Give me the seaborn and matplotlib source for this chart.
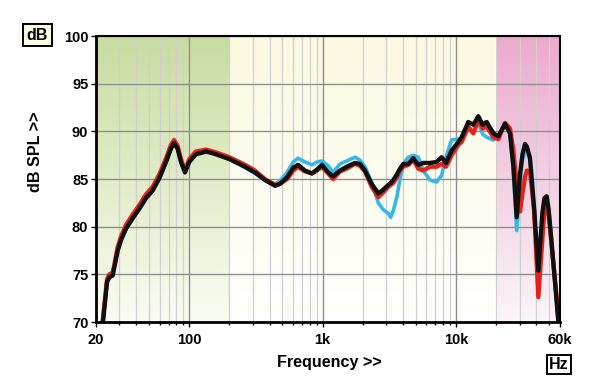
import numpy as np
import pandas as pd
import matplotlib
matplotlib.use('Agg')
import matplotlib.pyplot as plt
import matplotlib.ticker as mticker
import seaborn as sns

# frequency grid (Hz) and three measured responses (dB SPL)
freq = [22.0, 24.2, 25.2, 26.7, 29.1, 30.8, 33.6, 37.7, 42.3, 47.4, 53.2, 59.7,
        67.0, 73.0, 76.9, 81.8, 86.7, 92.9, 100, 112, 134, 159, 200, 262, 311,
        370, 440, 479, 541, 603, 653, 738, 832, 907, 989, 1101, 1197, 1349,
        1514, 1749, 1906, 2078, 2332, 2614, 2850, 3107, 3240, 3388, 3600, 3801,
        4027, 4389, 4785, 5216, 5686, 6380, 7159, 7805, 8408, 9271, 10400,
        11020, 12360, 13480, 14700, 15850, 16990, 19060, 20790, 23290, 25410,
        26920, 28510, 30220, 31500, 32910, 34000, 35880, 38460, 41420, 44370,
        46000, 47860, 49500, 51920, 58340, 62000]

black = [68.5, 74.2, 74.7, 74.9, 77.5, 78.6, 79.8, 80.9, 81.9, 83.0, 83.8, 85.1,
         86.8, 88.2, 88.8, 88.2, 86.8, 85.7, 86.8, 87.6, 87.9, 87.6, 87.1, 86.3, 85.7,
         84.9, 84.3, 84.5, 85.2, 86.2, 86.5, 85.9, 85.6, 86.0, 86.5, 85.7, 85.3, 85.9,
         86.3, 86.7, 86.6, 85.9, 84.5, 83.5, 83.9, 84.4, 84.6, 84.9, 85.5, 86.1,
         86.6, 86.6, 87.2, 86.5, 86.7, 86.7, 86.8, 87.3, 86.7, 88.0, 88.9,
         89.4, 91.0, 90.7, 91.6, 90.7, 91.0, 89.8, 89.5, 90.8, 89.8,
         86.3, 81.0, 85.6, 87.6, 88.7, 88.4, 87.2, 82.1, 75.4, 81.4,
         83.0, 83.2, 81.8, 78.6, 70.2, 67.5]

red = [69.0, 74.5, 75.0, 75.2, 77.9, 79.0, 80.2, 81.3, 82.3, 83.4, 84.2, 85.5,
       87.2, 88.6, 89.1, 88.5, 87.1, 85.9, 87.1, 87.9, 88.1, 87.8, 87.3, 86.5, 85.9,
       85.0, 84.4, 84.5, 85.0, 85.9, 86.3, 85.8, 85.6, 85.9, 86.3, 85.6, 85.0, 85.8,
       86.1, 86.6, 86.4, 85.8, 84.2, 83.1, 83.6, 84.2, 84.4, 84.6, 85.2, 85.9,
       86.3, 86.5, 87.0, 86.1, 85.9, 86.3, 86.3, 86.6, 86.3, 87.5, 88.6,
       88.9, 90.5, 89.8, 91.2, 90.3, 90.5, 89.4, 89.2, 90.9, 90.3,
       88.0, 84.5, 81.6, 83.5, 85.2, 85.9, 85.8, 81.8, 72.6, 78.6,
       81.6, 82.3, 81.2, 78.3, 71.0, 68.0]

cyan = [68.5, 74.2, 74.7, 74.9, 77.5, 78.6, 79.8, 80.9, 81.9, 83.0, 83.8, 85.1,
        86.8, 88.2, 88.8, 88.2, 86.8, 85.7, 86.8, 87.6, 87.9, 87.6, 87.1, 86.2, 85.6,
        84.9, 84.5, 84.8, 85.7, 86.8, 87.2, 86.8, 86.5, 86.8, 86.9, 86.4, 85.7, 86.6,
        86.9, 87.3, 87.0, 86.3, 84.7, 82.5, 81.8, 81.4, 81.0, 81.7, 83.1, 85.0,
        86.6, 87.3, 87.5, 87.3, 85.9, 84.9, 84.7, 85.4, 87.3, 89.1, 89.2,
        89.2, 90.9, 90.8, 90.9, 89.7, 89.4, 89.1, 89.6, 90.8, 89.7,
        86.0, 79.6, 84.5, 87.0, 88.0, 87.9, 87.0, 81.8, 75.7, 81.1,
        82.8, 83.0, 81.6, 78.3, 70.2, 67.5]

major_ticks = [20, 100, 1000, 10000, 60000]
major_labels = ['20', '100', '1k', '10k', '60k']
minor_ticks = [30, 40, 50, 60, 70, 80, 90, 200, 300, 400, 500, 600, 700, 800, 900,
               2000, 3000, 4000, 5000, 6000, 7000, 8000, 9000,
               20000, 30000, 40000, 50000]

sns.set_style('ticks')
plt.rcParams['font.family'] = ['Liberation Sans', 'DejaVu Sans']
plt.rcParams['font.weight'] = 'bold'
plt.rcParams['text.color'] = 'black'
plt.rcParams['xtick.labelcolor'] = 'black'
plt.rcParams['ytick.labelcolor'] = 'black'

fig = plt.figure(figsize=(6, 3.89), dpi=100)
ax = fig.add_axes([0.16, 0.172, 0.773, 0.735])

# shaded frequency bands, vertical gradients
def band(x0, x1, top, bottom):
    t = np.linspace(0, 1, 256)[:, None, None]
    img = np.array(top)[None, None, :] * (1 - t) + np.array(bottom)[None, None, :] * t
    ax.imshow(img / 255, extent=[x0, x1, 70, 100], aspect='auto',
              interpolation='bilinear', zorder=0, origin='upper')

band(20, 200, (200, 220, 160), (250, 252, 242))
band(200, 20000, (251, 249, 224), (255, 255, 253))
band(20000, 60000, (236, 170, 205), (250, 245, 249))

df = pd.DataFrame({'freq': freq, 'cyan': cyan, 'red': red, 'black': black})
df = df.melt('freq', var_name='run', value_name='spl')
sns.lineplot(data=df, x='freq', y='spl', hue='run',
             hue_order=['cyan', 'red', 'black'],
             palette={'cyan': '#35b8e8', 'red': '#e42219', 'black': '#101010'},
             size='run', sizes={'cyan': 2.6, 'red': 3.1, 'black': 3.1},
             estimator=None, sort=False, legend=False, ax=ax)
for ln in ax.lines:
    ln.set_solid_joinstyle('round')
    ln.set_solid_capstyle('round')

ax.set_xscale('log')
ax.set_xlim(20, 60000)
ax.set_ylim(70, 100)
ax.xaxis.set_major_locator(mticker.FixedLocator(major_ticks))
ax.xaxis.set_major_formatter(mticker.FixedFormatter(major_labels))
ax.xaxis.set_minor_locator(mticker.FixedLocator(minor_ticks))
ax.xaxis.set_minor_formatter(mticker.NullFormatter())
ax.set_yticks(range(70, 101, 5))

ax.set_axisbelow(True)
ax.grid(True, which='major', axis='x', color='#8f8f8f', lw=1.0)
ax.grid(True, which='minor', axis='x', color='#d0d0d0', lw=0.9)
ax.grid(True, which='major', axis='y', color='#8f8f8f', lw=1.0)

ax.tick_params(axis='both', which='major', length=3.5, width=1, color='black',
               labelsize=10.5, labelcolor='black')
ax.tick_params(axis='x', which='major', pad=4.5)
ax.tick_params(axis='y', which='major', pad=2)
ax.tick_params(axis='x', which='minor', length=2.5, width=1, color='black')
for lab in ax.get_xticklabels() + ax.get_yticklabels():
    lab.set_fontweight('bold')

for side in ['left', 'bottom']:
    ax.spines[side].set_linewidth(2.0)
for side in ['top', 'right']:
    ax.spines[side].set_linewidth(1.5)
for s in ax.spines.values():
    s.set_color('black')
    s.set_zorder(5)

ax.set_xlabel('')
ax.set_ylabel('')
fig.text(329 / 600, 1 - 362 / 389, 'Frequency >>', ha='center', va='center',
         fontsize=11.6, fontweight='bold', color='black')
fig.text(36 / 600, 1 - 152 / 389, 'dB SPL >>', ha='center', va='center',
         rotation=90, fontsize=11.6, fontweight='bold', color='black')
fig.text(37.5 / 600, 1 - 35 / 389, 'dB', ha='center', va='center', fontsize=11.5,
         fontweight='bold', color='black',
         bbox=dict(boxstyle='square,pad=0.22', fc='#fcfbe2', ec='black', lw=1.4))
fig.text(559 / 600, 1 - 364.5 / 389, 'Hz', ha='center', va='center', fontsize=11.5,
         fontweight='bold', color='black',
         bbox=dict(boxstyle='square,pad=0.15', fc='white', ec='black', lw=1.4))

fig.savefig('out.png', dpi=100)
